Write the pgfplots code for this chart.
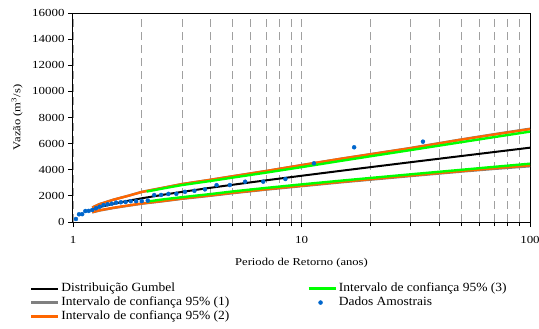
\documentclass[border=0pt]{standalone}
\usepackage{fontspec}
\setmainfont{Liberation Serif}
\newfontfamily\widefont[FakeStretch=1.2]{Liberation Serif}
\newfontfamily\legfont[FakeStretch=1.08]{Liberation Serif}
\usepackage{pgfplots}
\pgfplotsset{compat=1.18}

\definecolor{gumbel}{RGB}{0,0,0}
\definecolor{ciA}{RGB}{128,128,128}
\definecolor{ciB}{RGB}{255,102,0}
\definecolor{ciC}{RGB}{0,255,0}
\definecolor{dados}{RGB}{0,102,204}
\definecolor{gridc}{RGB}{160,160,160}

\pgfplotsset{
  legline/.style={legend image code/.code={\draw[##1] (0bp,0bp) -- (27bp,0bp);}},
  legmark/.style={legend image code/.code={\draw[mark repeat=1,mark phase=1,##1] plot coordinates {(12bp,0bp)};}},
}

\begin{document}
\begin{tikzpicture}
\useasboundingbox (-73bp,-107bp) rectangle (466bp,222bp);
\begin{axis}[
  scale only axis,
  width=457bp, height=209bp,
  xmode=log, log basis x=10,
  xmin=1, xmax=100, ymin=0, ymax=16000,
  ytick={0,2000,...,16000},
  scaled y ticks=false,
  xtick={1,10,100},
  xticklabels={1,10,100},
  minor xtick={2,3,4,5,6,7,8,9,20,30,40,50,60,70,80,90},
  xmajorgrids, xminorgrids,
  grid style={gridc, line width=0.8bp, dash pattern=on 8bp off 5bp},
  major grid style={gridc, line width=0.8bp, dash pattern=on 8bp off 5bp},
  minor grid style={gridc, line width=0.8bp, dash pattern=on 8bp off 5bp},
  axis line style={line width=1bp},
  tick style={black, line width=0.8bp},
  tick align=outside,
  major tick length=5bp, minor tick length=4bp,
  xtick pos=bottom, ytick pos=left,
  /pgf/number format/1000 sep={},
  /pgf/number format/assume math mode=true,
  yticklabel={\pgfmathprintnumber[fixed,precision=0,1000 sep={}]{\tick}},
  tick label style={font=\widefont\fontsize{10.8bp}{12bp}\selectfont},
  xticklabel style={yshift=-6bp},
  label style={font=\widefont\fontsize{10.5bp}{12bp}\selectfont},
  xlabel={Periodo de Retorno (anos)},
  ylabel={Vazão (m\textsuperscript{3}/s)},
  xlabel style={at={(axis description cs:0.5,0)}, anchor=center, yshift=-41bp},
  ylabel style={at={(axis description cs:0,0.5)}, anchor=center, yshift=56bp},
  legend columns=3,
  transpose legend,
  legend cell align=left,
  legend style={draw=none, fill=none, inner sep=0pt, outer sep=0pt,
    at={(axis description cs:-0.094,-0.285)}, anchor=north west,
    font=\legfont\fontsize{12.5bp}{14bp}\selectfont,
    nodes={inner xsep=2bp, inner ysep=0bp, text height=9.5bp, text depth=4.5bp},
    row sep=0bp,
    /tikz/column 2/.style={column sep=76bp}},
]

% Gumbel distribution fitted to the annual maxima
\addplot[gumbel, line width=2bp, legline] coordinates {
 (1.214,975) (1.3,1130) (1.5,1394) (1.75,1632) (2,1815) (2.5,2095)
 (3,2306) (4,2620) (5,2852) (7,3191) (10,3539) (15,3927) (20,4198)
 (30,4577) (50,5050) (70,5361) (100,5689)
};
\addlegendentry{Distribuição Gumbel}

% 95% confidence interval, method 1
\addplot[ciA, line width=2.4bp, legline] coordinates {
 (1.214,1110) (1.3,1355) (1.5,1705) (1.75,2015) (2,2305) (2.5,2635)
 (3,2905) (4,3235) (5,3505) (7,3905) (10,4355) (15,4855) (20,5190)
 (30,5665) (50,6320) (70,6725) (100,7140)
};
\addplot[ciA, line width=2.4bp, forget plot] coordinates {
 (1.214,735) (1.3,870) (1.5,1070) (1.75,1250) (2,1400) (2.5,1600)
 (3,1775) (4,2010) (5,2210) (7,2480) (10,2745) (15,3045) (20,3240)
 (30,3520) (50,3860) (70,4070) (100,4270)
};
\addlegendentry{Intervalo de confiança 95\% (1)}

% 95% confidence interval, method 2
\addplot[ciB, line width=2.4bp, legline] coordinates {
 (1.214,1100) (1.3,1350) (1.5,1700) (1.75,2010) (2,2300) (2.5,2630)
 (3,2900) (4,3230) (5,3500) (7,3900) (10,4350) (15,4850) (20,5180)
 (30,5650) (50,6300) (70,6700) (100,7110)
};
\addplot[ciB, line width=2.4bp, forget plot] coordinates {
 (1.214,750) (1.3,890) (1.5,1090) (1.75,1270) (2,1420) (2.5,1620)
 (3,1800) (4,2040) (5,2240) (7,2510) (10,2780) (15,3080) (20,3280)
 (30,3560) (50,3900) (70,4120) (100,4340)
};
\addlegendentry{Intervalo de confiança 95\% (2)}

% 95% confidence interval, method 3
\addplot[ciC, line width=2.4bp, legline] coordinates {
 (2.1,2330) (2.5,2580) (3,2830) (4,3140) (5,3400) (7,3780) (10,4200)
 (15,4690) (20,5030) (30,5505) (50,6110) (70,6505) (100,6920)
};
\addplot[ciC, line width=2.4bp, forget plot] coordinates {
 (2.1,1560) (2.5,1740) (3,1900) (4,2140) (5,2340) (7,2610) (10,2880)
 (15,3170) (20,3370) (30,3650) (50,3995) (70,4225) (100,4464)
};
\addlegendentry{Intervalo de confiança 95\% (3)}

% Observed annual maxima (Weibull plotting positions)
\addplot[only marks, mark=*, mark size=2bp, dados, legmark] coordinates {
 (34,6150) (17,5720) (11.333,4490) (8.5,3290) (6.8,3090) (5.667,3085)
 (4.857,2830) (4.25,2820) (3.778,2500) (3.4,2390) (3.091,2310) (2.833,2160)
 (2.615,2150) (2.429,2070) (2.267,2060) (2.125,1640) (2.0,1600) (1.889,1595)
 (1.789,1590) (1.7,1530) (1.619,1510) (1.545,1480) (1.478,1400) (1.417,1355)
 (1.36,1300) (1.308,1170) (1.259,1050) (1.214,920) (1.172,850) (1.133,840)
 (1.097,600) (1.0625,590) (1.03,230)
};
\addlegendentry{Dados Amostrais}

\end{axis}
\end{tikzpicture}
\end{document}
